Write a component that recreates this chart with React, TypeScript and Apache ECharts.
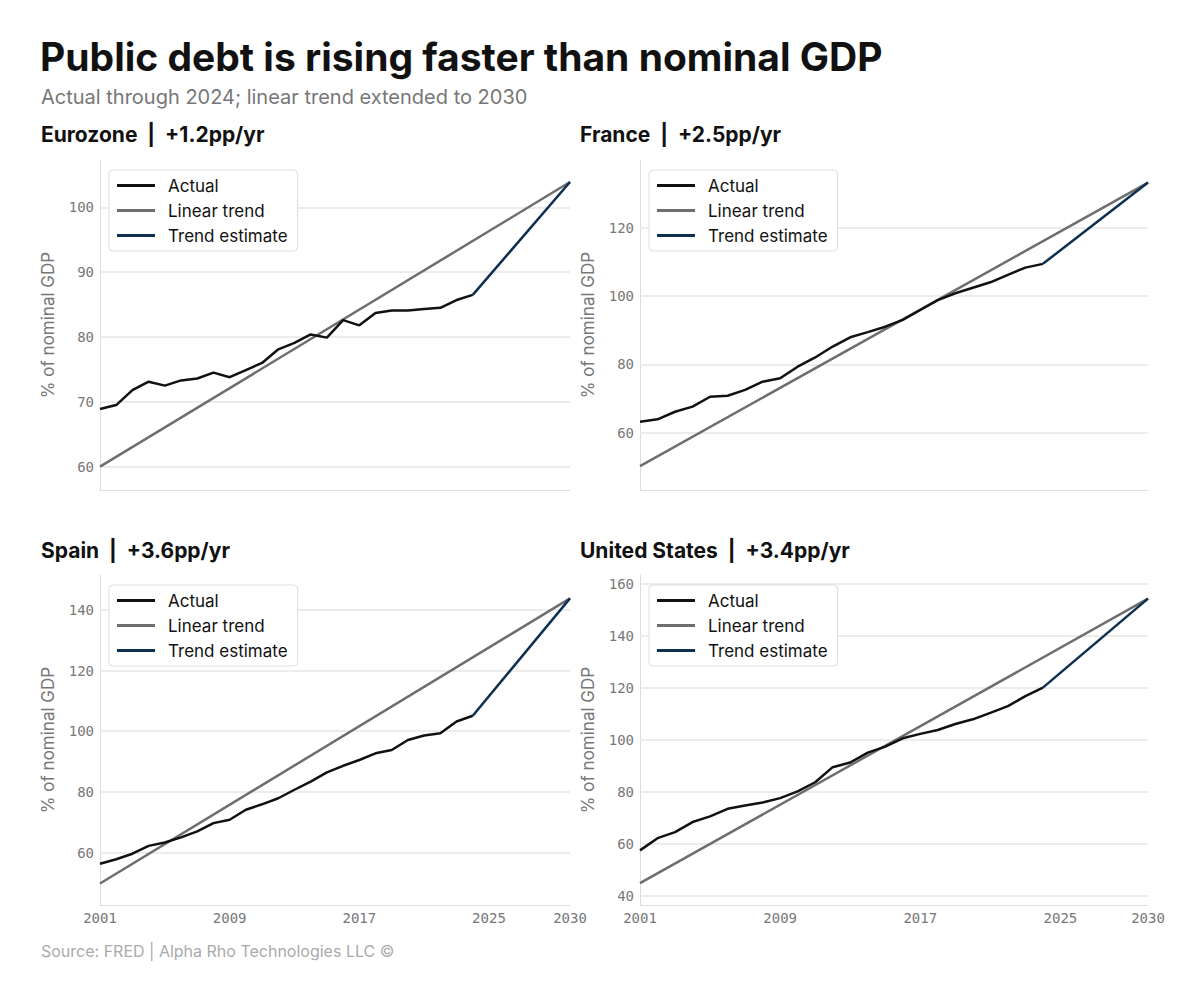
import React, { useEffect, useRef } from "react";
import * as echarts from "echarts";

const years = Array.from({ length: 24 }, (_, i) => 2001 + i);
const xTicks = [2001, 2009, 2017, 2025, 2030];

const panelTitles = ["Eurozone  |  +1.2pp/yr", "France  |  +2.5pp/yr", "Spain  |  +3.6pp/yr", "United States  |  +3.4pp/yr"];
const euroActual = [68.9, 69.5, 71.8, 73.1, 72.5, 73.3, 73.6, 74.5, 73.8, 74.9, 76.0, 78.1, 79.1, 80.4, 79.9, 82.6, 81.8, 83.7, 84.1, 84.1, 84.3, 84.5, 85.7, 86.5];
const franceActual = [63.2, 63.9, 66.1, 67.6, 70.5, 70.8, 72.5, 74.9, 75.9, 79.3, 82.0, 85.2, 87.9, 89.4, 91.0, 93.0, 95.9, 98.8, 100.8, 102.4, 104.0, 106.2, 108.3, 109.4];
const spainActual = [56.3, 57.8, 59.6, 62.2, 63.3, 65.0, 67.0, 69.7, 70.8, 74.1, 75.9, 77.9, 80.7, 83.4, 86.4, 88.6, 90.5, 92.7, 93.8, 97.1, 98.6, 99.3, 103.2, 105.1];
const usActual = [57.6, 62.3, 64.6, 68.5, 70.7, 73.6, 74.9, 76.0, 77.7, 80.3, 83.8, 89.6, 91.4, 95.2, 97.5, 100.7, 102.4, 103.9, 106.2, 108.0, 110.5, 113.1, 116.9, 120.2];
const trendStart = [60.0, 50.2, 49.8, 45.0];
const trendEnd = [103.9, 133.2, 143.8, 154.4];
const yMin = [56.4, 43.2, 42.7, 36.6];
const yMax = [107.3, 139.8, 151.5, 163.5];
const yTicks = [[60, 70, 80, 90, 100], [60, 80, 100, 120], [60, 80, 100, 120, 140], [40, 60, 80, 100, 120, 140, 160]];
const actuals = [euroActual, franceActual, spainActual, usActual];

const grids = [
  { left: 100, width: 470, top: 160, height: 330 },
  { left: 640, width: 508, top: 160, height: 330 },
  { left: 100, width: 470, top: 575, height: 330 },
  { left: 640, width: 508, top: 575, height: 330 },
];

export default function App() {
  const ref = useRef<HTMLDivElement>(null);
  useEffect(() => {
    document.body.style.margin = "0";
    const chart = echarts.init(ref.current!, null, { renderer: "svg" });
    const font = "Inter, 'Noto Sans', sans-serif";
    const mono = "'DejaVu Sans Mono', monospace";
    const xAxis: any[] = [];
    const yAxis: any[] = [];
    const series: any[] = [];
    const legend: any[] = [];
    const titles: any[] = [
      { text: "Public debt is rising faster than nominal GDP", left: 35, top: 32, textStyle: { fontFamily: font, fontSize: 39, fontWeight: "bold", color: "#111" } },
      { text: "Actual through 2024; linear trend extended to 2030", left: 36, top: 82, textStyle: { fontFamily: font, fontSize: 20, fontWeight: "normal", color: "#777" } },
      { text: "Source: FRED | Alpha Rho Technologies LLC ©", left: 36, top: 938, textStyle: { fontFamily: font, fontSize: 16, fontWeight: "normal", color: "#aaa" } },
    ];
    grids.forEach((g, i) => {
      titles.push({ text: panelTitles[i], left: i % 2 === 0 ? 36 : 575, top: i < 2 ? 119 : 535, textStyle: { fontFamily: font, fontSize: 21, fontWeight: "bold", color: "#111" } });
      xAxis.push({
        type: "value", gridIndex: i, min: 2001, max: 2030,
        axisLine: { show: true, lineStyle: { color: "#ddd" } }, axisTick: { show: false }, splitLine: { show: false },
        axisLabel: { show: i >= 2, customValues: xTicks, formatter: (v: number) => String(v), fontFamily: mono, fontSize: 14, color: "#777", margin: 6 },
      });
      yAxis.push({
        type: "value", gridIndex: i, min: yMin[i], max: yMax[i],
        name: "% of nominal GDP", nameLocation: "middle", nameGap: 44,
        nameTextStyle: { fontFamily: font, fontSize: 17, color: "#777" },
        axisLine: { show: true, lineStyle: { color: "#ddd" } }, axisTick: { show: false }, splitLine: { show: false },
        axisLabel: { customValues: yTicks[i], formatter: (v: number) => String(v), fontFamily: mono, fontSize: 14, color: "#777", margin: 6 },
      });
      series.push({
        type: "line", name: "Actual", xAxisIndex: i, yAxisIndex: i, showSymbol: false, z: 4,
        lineStyle: { color: "#111", width: 2.5 }, itemStyle: { color: "#111" },
        data: years.map((y, k) => [y, actuals[i][k]]),
        markLine: { silent: true, symbol: "none", label: { show: false }, lineStyle: { color: "#e6e6e6", width: 1.5, type: "solid" }, z: 1, data: yTicks[i].map((t) => ({ yAxis: t })) },
      });
      series.push({
        type: "line", name: "Linear trend", xAxisIndex: i, yAxisIndex: i, showSymbol: false, z: 3,
        lineStyle: { color: "#6e6e6e", width: 2.5 }, itemStyle: { color: "#6e6e6e" },
        data: [[2001, trendStart[i]], [2030, trendEnd[i]]],
      });
      series.push({
        type: "line", name: "Trend estimate", xAxisIndex: i, yAxisIndex: i, showSymbol: false, z: 4,
        lineStyle: { color: "#0d3050", width: 2.5 }, itemStyle: { color: "#0d3050" },
        data: [[2024, actuals[i][23]], [2030, trendEnd[i]]],
      });
      legend.push({
        orient: "vertical", left: g.left + 9, top: g.top + 10, icon: "rect", itemWidth: 38, itemHeight: 3, itemGap: 8,
        padding: [7, 10, 7, 8], borderColor: "#ddd", borderWidth: 1, borderRadius: 4, backgroundColor: "#fff",
        textStyle: { fontFamily: font, fontSize: 17, color: "#111", padding: [0, 0, 0, 8] },
        data: ["Actual", "Linear trend", "Trend estimate"],
      });
    });
    chart.setOption({ animation: false, backgroundColor: "#fff", title: titles, grid: grids, xAxis, yAxis, series, legend });
    return () => chart.dispose();
  }, []);
  return <div ref={ref} style={{ width: 1200, height: 1000 }} />;
}
